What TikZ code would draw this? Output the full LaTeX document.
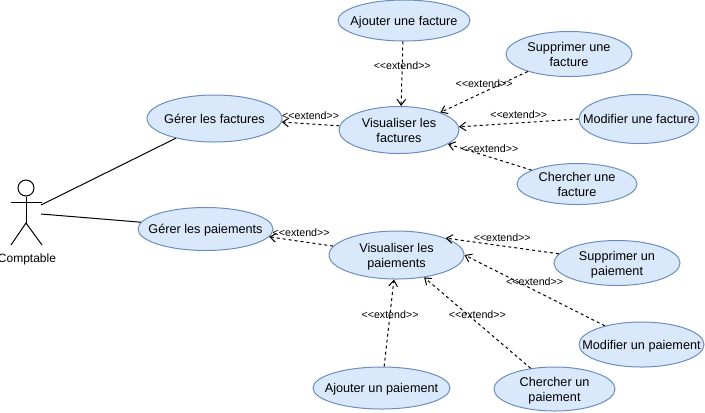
\documentclass[tikz,border=0pt]{standalone}
\usepackage{fontspec}
\setmainfont{Liberation Sans}
\usetikzlibrary{shapes.geometric,arrows.meta}

\newcommand{\extendtxt}{<{}<extend>{}>}

\tikzset{
	usecase/.style={shape=ellipse,draw=usecaseline,fill=usecasefill,line width=0.75pt,inner sep=-45pt,align=center,font=\fontsize{9.5}{11.25}\selectfont,execute at begin node=\rule{0pt}{8.8pt},execute at end node=\rule[-2pt]{0pt}{2pt}},
	twolines/.style={execute at begin node=\rule{0pt}{20.05pt}},
	extends/.style={draw=black,line width=0.75pt,dash pattern=on 2.25pt off 2.25pt,-{Straight Barb[length=4.5pt,width=6.5pt]}},
	extlabel/.style={font=\fontsize{8}{9.5}\selectfont,inner sep=0pt,yshift=6.25pt},
	assoc/.style={draw=black,line width=0.75pt},
}
\definecolor{usecasefill}{HTML}{DAE8FC}
\definecolor{usecaseline}{HTML}{6C8EBF}

\begin{document}
\begin{tikzpicture}[x=0.75pt,y=-0.75pt]
	\useasboundingbox (0,0) rectangle (705,412);

	\node[shape=circle,draw,line width=0.75pt,minimum size=12pt,inner sep=0pt] (head) at (26,188) {};
	\coordinate (hip) at (26,223);
	\coordinate (armL) at (11,202);
	\coordinate (armR) at (42,202);
	\coordinate (legL) at (11,245);
	\coordinate (legR) at (42,245);
	\coordinate (actorA) at (41,205);
	\coordinate (actorB) at (41,214);
	\node[font=\fontsize{9}{11}\selectfont,inner sep=0pt] (comptable) at (27,259) {Comptable};

	\node[usecase,minimum width=101.25pt,minimum height=35.25pt] (gf) at (214.5,118.5) {Gérer les factures};
	\node[usecase,minimum width=101.25pt,minimum height=32.25pt] (gp) at (205.5,229) {Gérer les paiements};
	\node[usecase,twolines,minimum width=90pt,minimum height=35.25pt] (vf) at (399,130) {Visualiser les\\factures};
	\node[usecase,minimum width=99pt,minimum height=30.75pt] (af) at (404,20.5) {Ajouter une facture};
	\node[usecase,twolines,minimum width=94.5pt,minimum height=33.75pt] (sf) at (569,54) {Supprimer une\\facture};
	\node[usecase,minimum width=90pt,minimum height=36.75pt] (mf) at (639,119) {Modifier une facture};
	\node[usecase,twolines,minimum width=90pt,minimum height=30.75pt] (cf) at (577,184) {Chercher une\\facture};
	\node[usecase,twolines,minimum width=101.25pt,minimum height=36pt] (vp) at (396.5,255) {Visualiser les\\paiements};
	\node[usecase,twolines,minimum width=94.5pt,minimum height=33.75pt] (sp) at (617,263) {Supprimer un\\paiement};
	\node[usecase,minimum width=93.75pt,minimum height=33.75pt] (mp) at (641.5,344.5) {Modifier un paiement};
	\node[usecase,minimum width=102.75pt,minimum height=31.5pt] (ap) at (381.5,388) {Ajouter un paiement};
	\node[usecase,twolines,minimum width=90.75pt,minimum height=33pt] (cp) at (554.5,389) {Chercher un\\paiement};

	\draw[assoc] (head) -- (hip);
	\draw[assoc] (armL) -- (armR);
	\draw[assoc] (legL) -- (hip) -- (legR);

	\path (actorA) edge[assoc] (gf.207.5);
	\path (actorB) edge[assoc] (gp.174.8);

	\path (vf.176) edge[extends] node[extlabel] {\extendtxt} (gf.-3.8);
	\path (vp.172.8) edge[extends] node[extlabel] {\extendtxt} (gp.-7.3);
	\path (af.267) edge[extends] node[extlabel,pos=.37,yshift=-6.25pt] {\extendtxt} (vf.85);
	\path (sf.203.6) edge[extends] node[extlabel] {\extendtxt} (vf.23.7);
	\path (mf.180) edge[extends] node[extlabel] {\extendtxt} (vf.3.8);
	\path (cf.163.9) edge[extends] node[extlabel] {\extendtxt} (vf.-16);
	\path (sp.171.2) edge[extends] node[extlabel] {\extendtxt} (vp.19);
	\path (mp.153.8) edge[extends] node[extlabel] {\extendtxt} (vp.0);
	\path (ap.83) edge[extends] node[extlabel,pos=.6,yshift=-6.25pt] {\extendtxt} (vp.264.5);
	\path (cp.139.6) edge[extends] node[extlabel] {\extendtxt} (vp.-39.9);
\end{tikzpicture}
\end{document}
